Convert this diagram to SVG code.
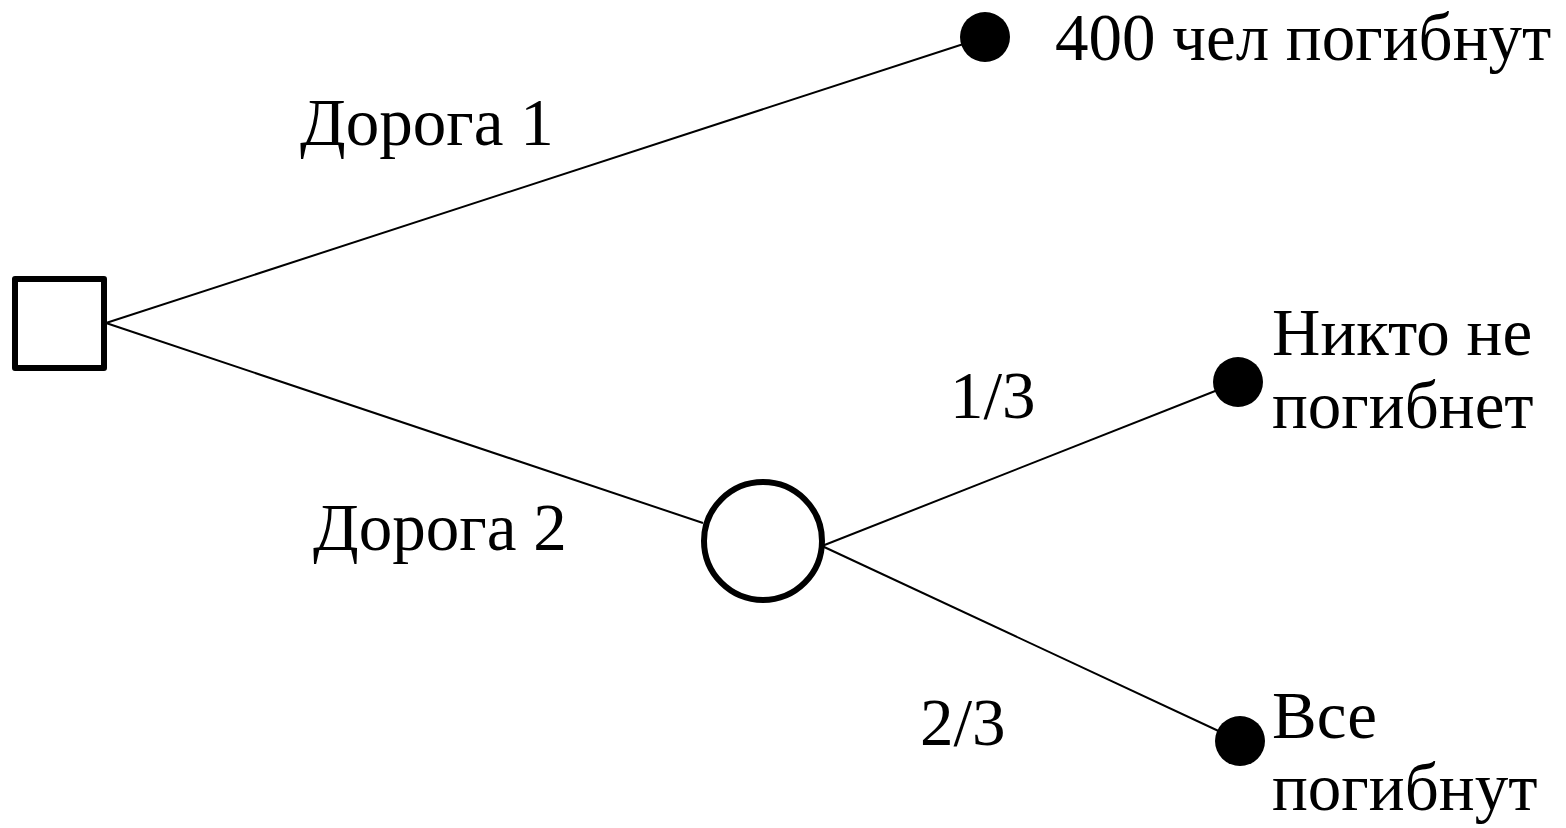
<svg xmlns="http://www.w3.org/2000/svg" width="1566" height="828" viewBox="0 0 1566 828">
<style>
.t{font-family:"Liberation Serif","DejaVu Serif",serif;font-size:67px;fill:#000}
.edge{stroke:#000;stroke-width:2;fill:none}
.leaf{fill:#000}
</style>
<rect width="1566" height="828" fill="#fff"/>
<g id="connectors">
<line class="edge" x1="106" y1="323" x2="985" y2="37"/>
<line class="edge" x1="106" y1="323" x2="703" y2="523"/>
<line class="edge" x1="822" y1="546" x2="1238" y2="382"/>
<line class="edge" x1="822" y1="546" x2="1240" y2="741"/>
</g>
<g id="decision"><rect x="15" y="279" width="89" height="89" fill="#fff" stroke="#000" stroke-width="6" stroke-linejoin="round"/></g>
<g id="chance"><circle cx="763" cy="541" r="59" fill="#fff" stroke="#000" stroke-width="6"/></g>
<g id="leaf1"><circle class="leaf" cx="985" cy="37" r="25"/><text class="t" x="1055" y="60">400 чел погибнут</text></g>
<g id="leaf2"><circle class="leaf" cx="1238" cy="382" r="25"/><text class="t" x="1272" y="355">Никто не</text><text class="t" x="1272" y="428">погибнет</text></g>
<g id="leaf3"><circle class="leaf" cx="1240" cy="741" r="25"/><text class="t" x="1272" y="738">Все</text><text class="t" x="1272" y="810">погибнут</text></g>
<g id="labels">
<text class="t" x="300" y="145">Дорога 1</text>
<text class="t" x="313" y="550">Дорога 2</text>
<text class="t" x="950" y="418">1/3</text>
<text class="t" x="920" y="745">2/3</text>
</g>
</svg>
